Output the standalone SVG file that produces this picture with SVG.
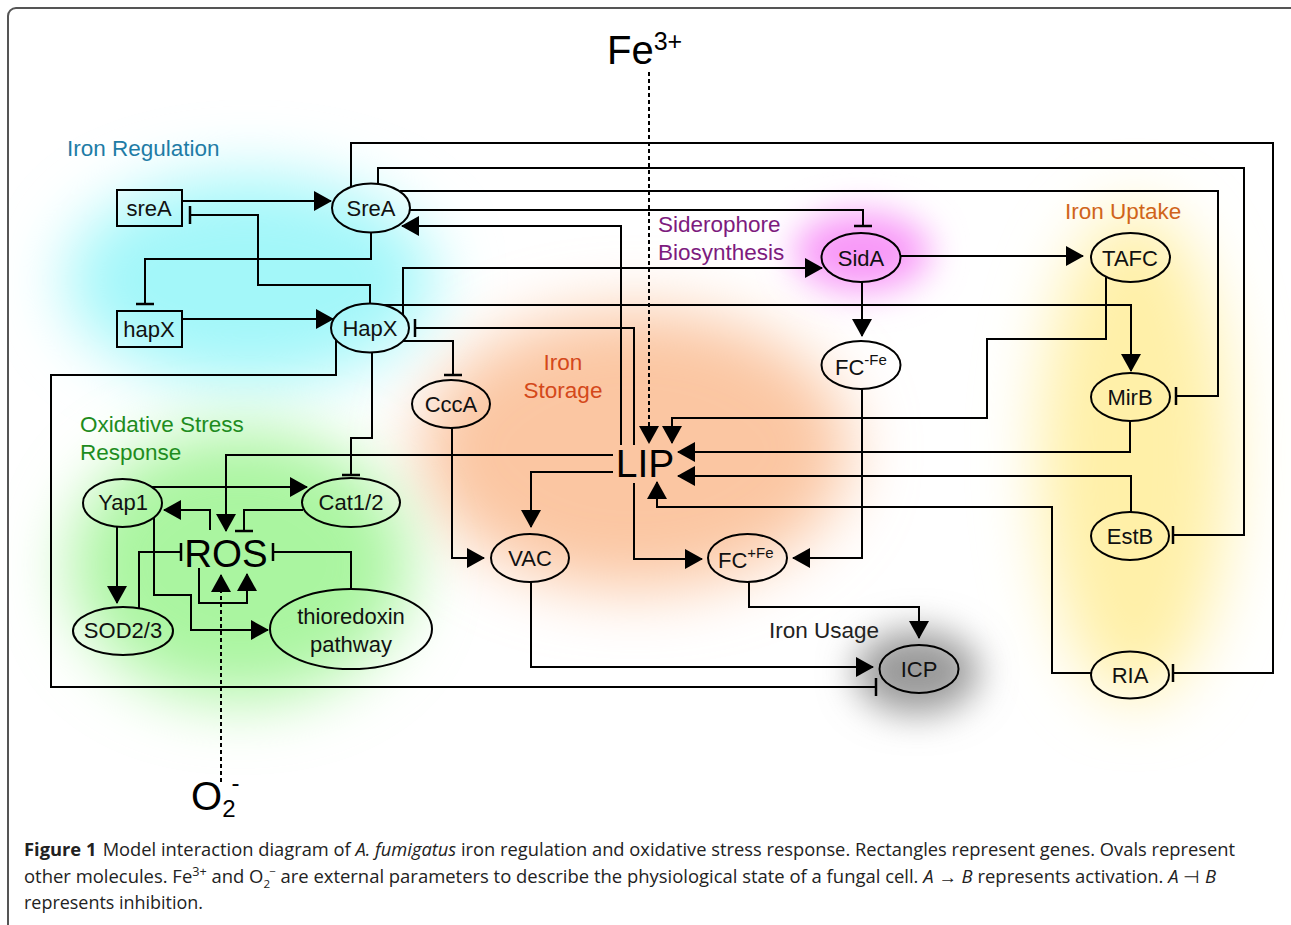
<svg xmlns="http://www.w3.org/2000/svg" width="1291" height="925" viewBox="0 0 1291 925">
<style>
.ln{fill:none;stroke:#000;stroke-width:2}
.ar{marker-end:url(#arrow)}
.tb{marker-end:url(#tbar)}
.dot{stroke-dasharray:4 3}
.node ellipse,.node rect{fill:none;stroke:#000;stroke-width:2}
.nt{font-family:"Liberation Sans",Arial,sans-serif;font-size:22px;text-anchor:middle;fill:#111}
.big{font-family:"Liberation Sans",Arial,sans-serif;fill:#000}
.lab{font-family:"Liberation Sans",Arial,sans-serif;font-size:22.5px}
.cap{font-family:"Open Sans",sans-serif;font-size:17.5px;fill:#222}
</style>
<defs>
<marker id="arrow" markerUnits="userSpaceOnUse" markerWidth="18" markerHeight="20" viewBox="0 0 18 20" refX="17" refY="10" orient="auto"><path d="M0,0 L18,10 L0,20 z" fill="#000"/></marker>
<marker id="tbar" markerUnits="userSpaceOnUse" markerWidth="4" markerHeight="20" viewBox="-2 -10 4 20" refX="0" refY="0" orient="auto"><path d="M0,-9 V9" stroke="#000" stroke-width="2.5"/></marker>
<filter id="blur" x="-60%" y="-60%" width="220%" height="220%"><feGaussianBlur stdDeviation="32"/></filter>
<filter id="blurS" x="-60%" y="-60%" width="220%" height="220%"><feGaussianBlur stdDeviation="18"/></filter>
</defs>
<rect width="1291" height="925" fill="#fff"/>
<rect x="8" y="8" width="1300" height="1000" rx="8" fill="none" stroke="#555" stroke-width="2"/>

<g id="backgrounds">
<ellipse cx="635" cy="450" rx="215" ry="140" fill="#fbc6a2" filter="url(#blur)"/>
<ellipse cx="250" cy="280" rx="185" ry="105" fill="#a3f7f9" filter="url(#blur)"/>
<ellipse cx="240" cy="565" rx="170" ry="135" fill="#aaf5a0" filter="url(#blur)"/>
<ellipse cx="1135" cy="455" rx="95" ry="245" fill="#fff0a8" filter="url(#blur)"/>
<ellipse cx="862" cy="252" rx="68" ry="40" fill="#f898f8" filter="url(#blurS)"/>
<ellipse cx="917" cy="672" rx="62" ry="42" fill="#9a9a9a" filter="url(#blurS)"/>
</g>

<g id="labels">
<text class="lab" x="67" y="156" fill="#1e7ca6">Iron Regulation</text>
<text class="lab" x="658" y="232" fill="#7d1b7e">Siderophore</text>
<text class="lab" x="658" y="260" fill="#7d1b7e">Biosynthesis</text>
<text class="lab" x="1065" y="219" fill="#d0641a">Iron Uptake</text>
<text class="lab" x="563" y="370" fill="#d4481a" text-anchor="middle">Iron</text>
<text class="lab" x="563" y="398" fill="#d4481a" text-anchor="middle">Storage</text>
<text class="lab" x="80" y="432" fill="#1e8c1e">Oxidative Stress</text>
<text class="lab" x="80" y="460" fill="#1e8c1e">Response</text>
<text class="lab" x="769" y="638" fill="#222">Iron Usage</text>
</g>

<g id="connectors">
<path class="ln ar" d="M182,201 H331"/>
<path class="ln tb" d="M370,304 V285 H258 V215 H190"/>
<path class="ln tb" d="M371,232 V259 H145 V304"/>
<path class="ln ar" d="M182,319 H333"/>
<path class="ln tb" d="M351,187 V143 H1273 V673 H1173"/>
<path class="ln tb" d="M378,184 V168 H1244 V535 H1173"/>
<path class="ln tb" d="M400,191 H1218 V396 H1176"/>
<path class="ln tb" d="M410,210 H863 V226"/>
<path class="ln ar" d="M621,445 V226 H402"/>
<path class="ln tb" d="M634,445 V328 H415"/>
<path class="ln ar" d="M403,315 V268 H822"/>
<path class="ln ar" d="M383,305 H1131 V371"/>
<path class="ln tb" d="M403,341 H453 V375"/>
<path class="ln tb" d="M336,340 V375 H51 V687 H876"/>
<path class="ln tb" d="M372,352 V438 H351 V475"/>
<path class="ln ar" d="M613,455 H226 V531"/>
<path class="ln ar" d="M613,472 H531 V527"/>
<path class="ln ar" d="M634,483 V559 H702"/>
<path class="ln ar" d="M452,428 V558 H484"/>
<path class="ln ar" d="M862,389 V558 H793"/>
<path class="ln ar" d="M531,582 V667 H873"/>
<path class="ln ar" d="M749,582 V607 H919 V638"/>
<path class="ln ar" d="M901,256 H1083"/>
<path class="ln ar" d="M862,282 V336"/>
<path class="ln ar" d="M1106,277 V339 H987 V418 H672 V443"/>
<path class="ln ar dot" d="M649,72 V443"/>
<path class="ln ar" d="M1130,421 V452 H678"/>
<path class="ln ar" d="M1131,512 V476 H678"/>
<path class="ln ar" d="M1091,673 H1052 V507 H657 V482"/>
<path class="ln ar" d="M152,487 H307"/>
<path class="ln ar" d="M210,530 V510 H164"/>
<path class="ln tb" d="M303,510 H244 V531"/>
<path class="ln ar" d="M117,527 V603"/>
<path class="ln tb" d="M139,608 V552 H181"/>
<path class="ln tb" d="M351,589 V552 H273"/>
<path class="ln ar" d="M154,518 V595 H191 V630 H268"/>
<path class="ln ar" d="M199,568 V603 H247 V574"/>
<path class="ln ar dot" d="M221,782 V575"/>
</g>

<g id="sreA_gene" class="node"><rect x="117" y="190" width="65" height="36"/><text class="nt" x="149" y="216">sreA</text></g>
<g id="hapX_gene" class="node"><rect x="117" y="311" width="65" height="36"/><text class="nt" x="149" y="337">hapX</text></g>
<g id="SreA" class="node"><ellipse cx="371" cy="208" rx="39" ry="24.5"/><text class="nt" x="371" y="216">SreA</text></g>
<g id="HapX" class="node"><ellipse cx="370" cy="328" rx="39" ry="24.5"/><text class="nt" x="370" y="336">HapX</text></g>
<g id="SidA" class="node"><ellipse cx="861" cy="257.5" rx="39.5" ry="24.5"/><text class="nt" x="861" y="266">SidA</text></g>
<g id="TAFC" class="node"><ellipse cx="1130.5" cy="257.5" rx="39.5" ry="24.5"/><text class="nt" x="1130" y="266">TAFC</text></g>
<g id="FC-Fe" class="node"><ellipse cx="861" cy="365" rx="39.5" ry="24"/><text class="nt" x="835" y="375" style="text-anchor:start">FC<tspan font-size="15" dy="-10">-Fe</tspan></text></g>
<g id="MirB" class="node"><ellipse cx="1130.5" cy="397" rx="39.5" ry="24"/><text class="nt" x="1130" y="405">MirB</text></g>
<g id="CccA" class="node"><ellipse cx="451" cy="404" rx="39" ry="24"/><text class="nt" x="451" y="412">CccA</text></g>
<g id="LIP"><text class="big" x="645" y="477" font-size="39" text-anchor="middle">LIP</text></g>
<g id="VAC" class="node"><ellipse cx="530" cy="558" rx="39" ry="24"/><text class="nt" x="530" y="566">VAC</text></g>
<g id="FC+Fe" class="node"><ellipse cx="747.5" cy="558" rx="39.5" ry="24"/><text class="nt" x="718" y="568" style="text-anchor:start">FC<tspan font-size="15" dy="-10">+Fe</tspan></text></g>
<g id="ICP" class="node"><ellipse cx="919" cy="669" rx="39.5" ry="24"/><text class="nt" x="919" y="677">ICP</text></g>
<g id="EstB" class="node"><ellipse cx="1130" cy="536" rx="39" ry="24"/><text class="nt" x="1130" y="544">EstB</text></g>
<g id="RIA" class="node"><ellipse cx="1130" cy="675" rx="39" ry="23.5"/><text class="nt" x="1130" y="683">RIA</text></g>
<g id="Yap1" class="node"><ellipse cx="122.5" cy="503" rx="39.5" ry="24"/><text class="nt" x="123" y="510">Yap1</text></g>
<g id="Cat1_2" class="node"><ellipse cx="351" cy="502.5" rx="49" ry="24.5"/><text class="nt" x="351" y="510">Cat1/2</text></g>
<g id="SOD2_3" class="node"><ellipse cx="123" cy="631" rx="50" ry="24"/><text class="nt" x="123" y="638">SOD2/3</text></g>
<g id="thioredoxin" class="node"><ellipse cx="351" cy="629" rx="81" ry="40"/><text class="nt" x="351" y="624">thioredoxin</text><text class="nt" x="351" y="652">pathway</text></g>
<g id="ROS"><text class="big" x="226" y="567" font-size="38.5" text-anchor="middle">ROS</text></g>
<g id="Fe3"><text class="big" x="607" y="64" font-size="40">Fe<tspan font-size="25" dy="-14">3+</tspan></text></g>
<g id="O2"><text class="big" x="191" y="810" font-size="40">O<tspan font-size="24" dy="7">2</tspan><tspan font-size="24" dx="-4" dy="-26">-</tspan></text></g>

<g id="caption">
<text class="cap" x="24" y="856" textLength="1211" lengthAdjust="spacingAndGlyphs"><tspan font-weight="bold">Figure 1</tspan><tspan dx="6">Model interaction diagram of </tspan><tspan font-style="italic">A. fumigatus</tspan> iron regulation and oxidative stress response. Rectangles represent genes. Ovals represent</text>
<text class="cap" x="24" y="883" textLength="1192" lengthAdjust="spacingAndGlyphs">other molecules. Fe<tspan font-size="12" dy="-7">3+</tspan><tspan dy="7"> and O</tspan><tspan font-size="11" dy="5">2</tspan><tspan font-size="11" dx="-1" dy="-13">−</tspan><tspan dy="8"> are external parameters to describe the physiological state of a fungal cell. </tspan><tspan font-style="italic">A</tspan> → <tspan font-style="italic">B</tspan> represents activation. <tspan font-style="italic">A</tspan> ⊣ <tspan font-style="italic">B</tspan></text>
<text class="cap" x="24" y="909" textLength="179" lengthAdjust="spacingAndGlyphs">represents inhibition.</text>
</g>
</svg>
